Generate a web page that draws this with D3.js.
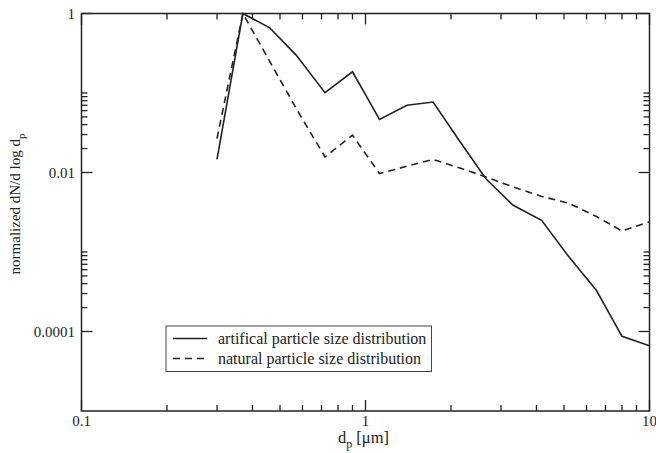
<!DOCTYPE html>
<html>
<head>
<meta charset="utf-8">
<script src="https://cdn.jsdelivr.net/npm/d3@7"></script>
<style>
  html, body { margin: 0; padding: 0; background: #fff; }
  svg { display: block; }
</style>
</head>
<body>
<svg id="chart" width="656" height="453"></svg>
<script>
// ---- data ----
const diameters = [0.3, 0.37, 0.46, 0.57, 0.72, 0.9, 1.12, 1.4, 1.73, 2.15, 2.65, 3.3, 4.17, 5.2, 6.5, 8.0, 10];
const artificial = [0.0146, 1, 0.66, 0.30, 0.101, 0.185, 0.0465, 0.070, 0.077, 0.0245, 0.0084, 0.0039, 0.0025, 0.00087, 0.00033, 0.000087, 0.000066];
const natural = [0.0268, 1, 0.25, 0.064, 0.0157, 0.0295, 0.0097, 0.012, 0.0146, 0.0114, 0.0088, 0.0066, 0.0050, 0.0041, 0.0028, 0.00184, 0.0024];
const xMajorTicks = [0.1, 1, 10];
const xTickLabels = ["0.1", "1", "10"];
const xMinorTicks = [0.2, 0.3, 0.4, 0.5, 0.6, 0.7, 0.8, 0.9, 2, 3, 4, 5, 6, 7, 8, 9];
const yMajorTicks = [1, 0.01, 0.0001];
const yTickLabels = ["1", "0.01", "0.0001"];
const yMinorTicks = [0.0002, 0.0003, 0.0004, 0.0005, 0.0006, 0.0007, 0.0008, 0.0009, 0.001,
                     0.02, 0.03, 0.04, 0.05, 0.06, 0.07, 0.08, 0.09, 0.1];
const seriesNames = ["artifical particle size distribution", "natural particle size distribution"];

(function () {
// ---- layout ----
const FONT = "'Liberation Serif', 'DejaVu Serif', serif";
const svg = d3.select("#chart").attr("font-family", FONT);
const pL = 81.5, pR = 649.5, pT = 13.5, pB = 411;
const x = d3.scaleLog().domain([0.1, 10]).range([pL, pR]);
const y = d3.scaleLog().domain([1e-5, 1]).range([pB, pT]);
const ink = "#222";
const majorLen = 11, minorLen = 6;
const DASH = "7,5";

// ticks (inward, on all four sides)
const g = svg.append("g").attr("stroke", ink).attr("stroke-width", 1.3);
function xTicks(vals, len) {
  vals.forEach(v => {
    g.append("line").attr("x1", x(v)).attr("x2", x(v)).attr("y1", pB).attr("y2", pB - len);
    g.append("line").attr("x1", x(v)).attr("x2", x(v)).attr("y1", pT).attr("y2", pT + len);
  });
}
function yTicks(vals, len) {
  vals.forEach(v => {
    g.append("line").attr("y1", y(v)).attr("y2", y(v)).attr("x1", pL).attr("x2", pL + len);
    g.append("line").attr("y1", y(v)).attr("y2", y(v)).attr("x1", pR).attr("x2", pR - len);
  });
}
xTicks(xMajorTicks, majorLen);
xTicks(xMinorTicks, minorLen);
yTicks(yMajorTicks, majorLen);
yTicks(yMinorTicks, minorLen);

// frame
svg.append("rect").attr("x", pL).attr("y", pT).attr("width", pR - pL).attr("height", pB - pT)
  .attr("fill", "none").attr("stroke", ink).attr("stroke-width", 1.5);

// tick labels
xMajorTicks.forEach((v, i) => {
  svg.append("text").attr("x", x(v)).attr("y", 426).attr("text-anchor", "middle")
    .attr("font-family", FONT).attr("fill", ink).attr("font-size", 15).text(xTickLabels[i]);
});
yMajorTicks.forEach((v, i) => {
  svg.append("text").attr("x", pL - 6.5).attr("y", y(v) + 5).attr("text-anchor", "end")
    .attr("font-family", FONT).attr("fill", ink).attr("font-size", 15).text(yTickLabels[i]);
});

// axis titles
const xt = svg.append("text").attr("x", 363.5).attr("y", 443).attr("text-anchor", "middle")
  .attr("font-family", FONT).attr("fill", ink).attr("font-size", 16.5);
xt.append("tspan").text("d");
xt.append("tspan").attr("font-size", 12).attr("dy", 5).text("p");
xt.append("tspan").attr("dy", -5).text(" [μm]");

const yt = svg.append("text").attr("transform", "translate(20,204) rotate(-90)")
  .attr("text-anchor", "middle").attr("font-family", FONT).attr("fill", ink).attr("font-size", 15);
yt.append("tspan").text("normalized dN/d log d");
yt.append("tspan").attr("font-size", 11).attr("dy", 5).text("p");

// lines
const line = d3.line().x(d => x(d[0])).y(d => y(d[1]));
svg.append("path").datum(diameters.map((d, i) => [d, artificial[i]]))
  .attr("d", line).attr("fill", "none").attr("stroke", ink).attr("stroke-width", 1.6)
  .attr("stroke-linejoin", "miter");
svg.append("path").datum(diameters.map((d, i) => [d, natural[i]]))
  .attr("d", line).attr("fill", "none").attr("stroke", ink).attr("stroke-width", 1.6)
  .attr("stroke-dasharray", DASH);

// legend
const lg = svg.append("g");
lg.append("rect").attr("x", 166).attr("y", 326).attr("width", 265.5).attr("height", 45.5)
  .attr("fill", "#fff").attr("stroke", "#444").attr("stroke-width", 1);
const dashes = [null, DASH];
seriesNames.forEach((name, i) => {
  const yy = 338.5 + i * 20;
  lg.append("line").attr("x1", 173).attr("x2", 207).attr("y1", yy).attr("y2", yy)
    .attr("stroke", ink).attr("stroke-width", 1.7).attr("stroke-dasharray", dashes[i]);
  lg.append("text").attr("x", 218).attr("y", yy + 5).attr("font-family", FONT)
    .attr("fill", ink).attr("font-size", 16).text(name);
});
})();
</script>
</body>
</html>
